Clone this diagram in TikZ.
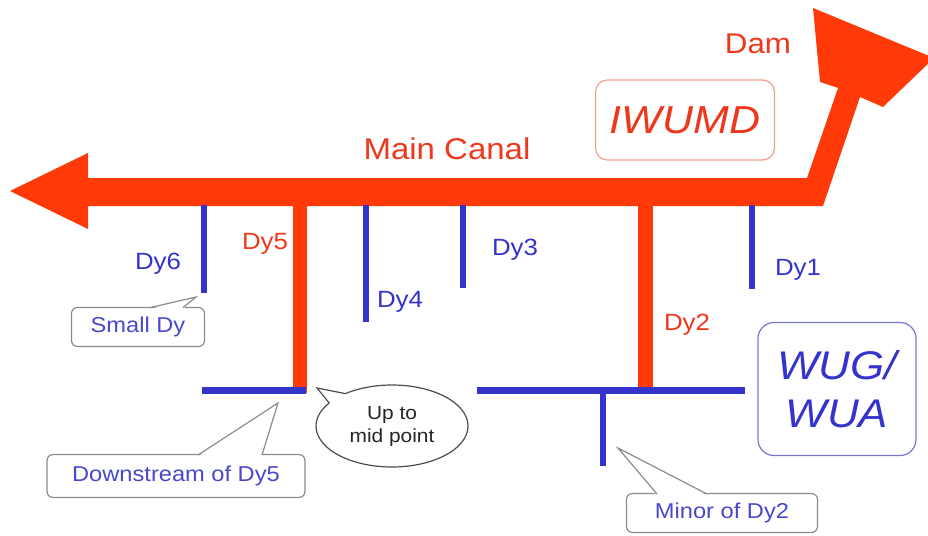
\documentclass[tikz,border=0pt]{standalone}
\usepackage{fontspec}
\setmainfont{Liberation Sans}[FakeStretch=1.1]
\usetikzlibrary{shapes.callouts,calc}
\definecolor{canal}{RGB}{255,58,8}
\definecolor{canaltext}{RGB}{238,56,28}
\definecolor{dyblue}{RGB}{52,52,204}
\definecolor{lblue}{RGB}{72,72,204}
\definecolor{boxgray}{RGB}{140,140,140}
\definecolor{iwbox}{RGB}{240,160,145}
\definecolor{wubox}{RGB}{120,120,210}
\tikzset{
  fs/.style={font=\fontsize{#1}{#1}\selectfont},
  redlabel/.style={text=canaltext, inner sep=0pt},
  bluelabel/.style={text=dyblue, inner sep=0pt},
  smallline/.style={draw=dyblue, line width=6pt},
  bigline/.style={draw=canal, line width=14pt},
  flatline/.style={draw=dyblue, line width=7pt},
  calloutbox/.style={draw=boxgray, line width=1.2pt, rounded corners=6pt, fill=white, text=lblue, inner sep=0pt},
  callptr/.style={draw=boxgray, line width=1.2pt, line join=miter},
}
\begin{document}
\begin{tikzpicture}[x=1pt,y=-1pt]
\useasboundingbox (0,0) rectangle (928,535);

% main canal arrow
\fill[canal] (10,191) -- (88,153) -- (88,178) -- (807,178) -- (838,88) -- (820,82)
  -- (813,8) -- (934,58) -- (883,107) -- (860,97) -- (823,206) -- (88,206)
  -- (88,229) -- cycle;

\node[redlabel, fs=28.5] (dam) at (758,44) {Dam};
\node[redlabel, fs=30] (main) at (447,149) {Main Canal};
\node[draw=iwbox, line width=1.2pt, rounded corners=12pt, minimum width=179pt, minimum height=80pt,
      text=canaltext, fs=39, inner sep=0pt] (iwumd) at (685,120) {\itshape IWUMD};

% distributaries
\coordinate (d6t) at (204,205); \coordinate (d6b) at (204,293);
\coordinate (d4t) at (366,205); \coordinate (d4b) at (366,322);
\coordinate (d3t) at (463,205); \coordinate (d3b) at (463,288);
\coordinate (d1t) at (752,205); \coordinate (d1b) at (752,289);
\coordinate (d5t) at (300,200); \coordinate (d5b) at (300,393);
\coordinate (d2t) at (645,200); \coordinate (d2b) at (645,393);
\coordinate (h5l) at (202,390); \coordinate (h5r) at (306,390);
\coordinate (h2l) at (477,390); \coordinate (h2r) at (745,390);
\coordinate (mt) at (603,390); \coordinate (mb) at (603,466);

\draw[smallline] (d6t) -- (d6b);
\draw[smallline] (d4t) -- (d4b);
\draw[smallline] (d3t) -- (d3b);
\draw[smallline] (d1t) -- (d1b);
\draw[smallline] (mt) -- (mb);
\draw[bigline] (d5t) -- (d5b);
\draw[bigline, line width=15pt] (d2t) -- (d2b);
\draw[flatline] (h5l) -- (h5r);
\draw[flatline] (h2l) -- (h2r);

\node[bluelabel, fs=23.5] (l6) at (158,264) {Dy6};
\node[redlabel, fs=23.5] (l5) at (265,244) {Dy5};
\node[bluelabel, fs=23.5] (l4) at (400,302) {Dy4};
\node[bluelabel, fs=23.5] (l3) at (515,250) {Dy3};
\node[bluelabel, fs=23.5] (l1) at (798,270) {Dy1};
\node[redlabel, fs=23.5] (l2) at (687,325) {Dy2};

% WUG / WUA box
\node[draw=wubox, line width=1.2pt, rounded corners=16pt, minimum width=158pt, minimum height=133pt,
      text=dyblue, fs=40, inner sep=0pt, align=center] (wug) at (837,389)
      {\itshape WUG/\\[8pt]\itshape WUA};

% callouts
\node[calloutbox, minimum width=133pt, minimum height=39pt, fs=21.5] (small) at (138,327) {Small Dy};
\coordinate (s1) at (150,307.6); \coordinate (s2) at (183,307.6); \coordinate (stip) at (196,297);
\fill[white] ($(s1)+(0,1.5)$) -- (stip) -- ($(s2)+(0,1.5)$) -- cycle;
\draw[callptr] (s1) -- (stip) -- (s2);

\node[calloutbox, minimum width=258pt, minimum height=43pt, fs=21.5] (down) at (176,476) {Downstream of Dy5};
\coordinate (w1) at (198,455); \coordinate (w2) at (262,455); \coordinate (wtip) at (278,403);
\fill[white] ($(w1)+(0,1.5)$) -- (wtip) -- ($(w2)+(0,1.5)$) -- cycle;
\draw[callptr] (w1) -- (wtip) -- (w2);

\node[calloutbox, minimum width=191pt, minimum height=39pt, fs=21.5] (minor) at (722,513) {Minor of Dy2};
\coordinate (m1) at (657,494); \coordinate (m2) at (707,494); \coordinate (mtip) at (618,448);
\fill[white] ($(m1)+(0,1.5)$) -- (mtip) -- ($(m2)+(0,1.5)$) -- cycle;
\draw[callptr] (m1) -- (mtip) -- (m2);

\coordinate (etip) at (317,388);
\node[ellipse callout, draw=black!70, line width=1.2pt, fill=white, minimum width=152pt, minimum height=82pt,
      callout absolute pointer=(etip), callout pointer arc=18, fs=19, align=center, inner sep=0pt,
      text=black!85] (mid) at (392,426) {Up to\\[4pt]mid point};
\end{tikzpicture}
\end{document}
